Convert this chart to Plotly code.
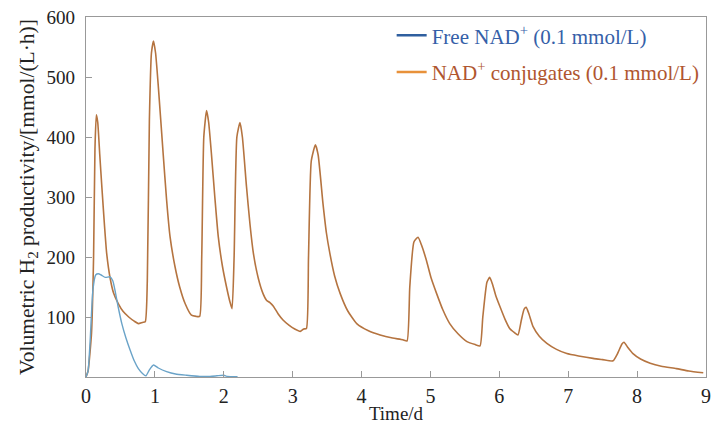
import plotly.graph_objects as go

# Data
conj_t = [0, 0.03, 0.08, 0.11, 0.13, 0.15, 0.17, 0.2, 0.23, 0.27, 0.30, 0.35, 0.40, 0.47, 0.54, 0.62, 0.70, 0.76,
          0.82, 0.86, 0.89, 0.92, 0.95, 0.98, 1.01, 1.05, 1.12, 1.17, 1.22, 1.29, 1.36, 1.44, 1.53, 1.60, 1.65,
          1.68, 1.71, 1.75, 1.78, 1.82, 1.87, 1.92, 1.98, 2.04, 2.09, 2.12, 2.15, 2.19, 2.235, 2.27, 2.33, 2.38,
          2.43, 2.50, 2.57, 2.62, 2.67, 2.72, 2.79, 2.86, 2.95, 3.03, 3.11, 3.16, 3.2, 3.23, 3.27, 3.33, 3.37,
          3.44, 3.49, 3.54, 3.61, 3.69, 3.8, 3.93, 4.1, 4.27, 4.45, 4.6, 4.66, 4.7, 4.76, 4.82, 4.87, 4.94,
          5.01, 5.09, 5.18, 5.28, 5.4, 5.53, 5.65, 5.72, 5.76, 5.82, 5.86, 5.9, 5.95, 6.01, 6.08, 6.15, 6.22,
          6.27, 6.32, 6.36, 6.39, 6.43, 6.49, 6.58, 6.69, 6.83, 6.98, 7.15, 7.36, 7.5, 7.65, 7.72, 7.78, 7.81,
          7.86, 7.94, 8.05, 8.19, 8.35, 8.57, 8.75, 8.96]
conj_v = [0, 10, 73, 200, 380, 437, 425, 370, 317, 250, 206, 165, 140, 122, 109, 100, 93, 89,
          91, 92, 160, 428, 540, 560, 540, 484, 372, 295, 234, 185, 150, 122, 103, 101, 101,
          200, 400, 444, 425, 373, 300, 234, 185, 150, 125, 114, 200, 400, 424, 400, 317, 255,
          206, 165, 139, 128, 124, 118, 105, 95, 86, 80, 76, 80, 81, 200, 360, 387, 370,
          289, 240, 206, 168, 139, 110, 89, 77, 70, 65, 62, 60, 150, 225, 233, 220, 195,
          165, 139, 112, 89, 72, 59, 54, 52, 100, 158, 166, 155, 135, 117, 97, 81, 74,
          70, 95, 113, 116, 105, 84, 68, 56, 46, 39, 35, 31, 29, 27, 40, 55, 58,
          50, 39, 30, 23, 18, 14, 10, 7]

free_t = [0, 0.03, 0.06, 0.1, 0.14, 0.18, 0.22, 0.28, 0.35, 0.39, 0.42, 0.47, 0.52, 0.58, 0.64, 0.70, 0.76,
          0.82, 0.87, 0.92, 0.98, 1.05, 1.17, 1.3, 1.46, 1.65, 1.8, 1.9, 2.0, 2.05, 2.2]
free_v = [0, 10, 60, 145, 170, 172, 170, 166, 167, 160, 145, 115, 89, 65, 45, 27, 14,
          6, 2, 12, 20, 15, 9, 5, 3, 1, 1, 2, 3, 1, 0.5]

x_ticks = [0, 1, 2, 3, 4, 5, 6, 7, 8, 9]
y_ticks = [100, 200, 300, 400, 500, 600]

names = ['<span style="color:#3560a8">Free NAD<sup>+</sup> (0.1 mmol/L)</span>',
         '<span style="color:#b0562f">NAD<sup>+</sup> conjugates (0.1 mmol/L)</span>']

FONT = "Liberation Serif"

fig = go.Figure()
fig.add_trace(go.Scatter(x=conj_t, y=conj_v, mode="lines",
                         line=dict(color="#b57440", width=1.6, shape="spline", smoothing=0.5),
                         showlegend=False, hoverinfo="skip"))
fig.add_trace(go.Scatter(x=free_t, y=free_v, mode="lines",
                         line=dict(color="#6aa3c8", width=1.4, shape="spline", smoothing=0.5),
                         showlegend=False, hoverinfo="skip"))
# legend entries
fig.add_trace(go.Scatter(x=[None], y=[None], mode="lines", name=names[0],
                         line=dict(color="#2f5f9f", width=2.5), legend="legend"))
fig.add_trace(go.Scatter(x=[None], y=[None], mode="lines", name=names[1],
                         line=dict(color="#e8913a", width=2.5), legend="legend2"))

axis_common = dict(showline=True, linecolor="#999999", linewidth=1.2, mirror=True, automargin=False,
                   ticks="inside", ticklen=6, tickcolor="#999999", showgrid=False, zeroline=False)

fig.update_layout(
    width=711, height=426,
    margin=dict(l=86, r=5, t=17, b=49),
    plot_bgcolor="white", paper_bgcolor="white",
    font=dict(family=FONT, size=19, color="#222"),
    xaxis=dict(range=[0, 9], tickvals=x_ticks, ticklabelstandoff=1,
               tickfont=dict(family=FONT, size=20, color="#222"),
               title=dict(text="Time/d", standoff=0, font=dict(family=FONT, size=19)), **axis_common),
    yaxis=dict(range=[0, 600], tickvals=y_ticks, ticklabelstandoff=6,
               tickfont=dict(family=FONT, size=19, color="#222"),
               title=dict(text="Volumetric H<sub>2</sub> productivity/[mmol/(L·h)]",
                          standoff=6, font=dict(family=FONT, size=21.5)), **axis_common),
    legend=dict(x=0.493, y=0.948, xanchor="left", yanchor="middle", bgcolor="rgba(0,0,0,0)",
                font=dict(family=FONT, size=21)),
    legend2=dict(x=0.493, y=0.846, xanchor="left", yanchor="middle", bgcolor="rgba(0,0,0,0)",
                 font=dict(family=FONT, size=21)),
)

fig.write_html("out.html", config={"displayModeBar": False},
               post_script="document.body.style.margin='0';document.body.style.overflow='hidden';")
